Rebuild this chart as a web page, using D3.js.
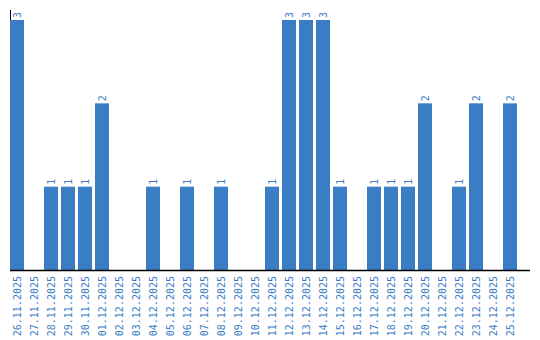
<!DOCTYPE html>
<html>
<head>
  <meta charset="utf-8">
  <script src="https://d3js.org/d3.v7.min.js"></script>
  <style>
  body { margin: 0; background: #fff; }
  .tick text, .val {
    font-family: "DejaVu Sans Mono", monospace;
    font-size: 10px;
    fill: #3a7dc4;
  }
  .bar { fill: #3a7dc4; }
  </style>
</head>
<body>
<script>
// days shown on the x axis
var dates = ['26.11.2025','27.11.2025','28.11.2025','29.11.2025','30.11.2025',
  '01.12.2025','02.12.2025','03.12.2025','04.12.2025','05.12.2025',
  '06.12.2025','07.12.2025','08.12.2025','09.12.2025','10.12.2025',
  '11.12.2025','12.12.2025','13.12.2025','14.12.2025','15.12.2025',
  '16.12.2025','17.12.2025','18.12.2025','19.12.2025','20.12.2025',
  '21.12.2025','22.12.2025','23.12.2025','24.12.2025','25.12.2025'];
// count per day
var counts = [3,0,1,1,1, 2,0,0,1,0, 1,0,1,0,0, 1,3,3,3,1, 0,1,1,1,2, 0,1,2,0,2];

var width = 540, height = 340;
var plotLeft = 10, plotTop = 20, base = 270;

var svg = d3.select('body').append('svg')
  .attr('width', width)
  .attr('height', height);

var x = d3.scaleBand()
  .domain(dates)
  .range([plotLeft, 517])
  .paddingInner(3 / 17)
  .paddingOuter(0);

var y = d3.scaleLinear()
  .domain([0, 3])
  .range([base, plotTop]);

var data = dates.map(function(d, i) { return {date: d, n: counts[i]}; });

// axes lines
svg.append('line')
  .attr('x1', plotLeft + 0.5).attr('x2', plotLeft + 0.5)
  .attr('y1', 10).attr('y2', base)
  .attr('stroke', '#000');

svg.selectAll('.bar')
  .data(data.filter(function(d) { return d.n > 0; }))
  .enter().append('rect')
  .attr('class', 'bar')
  .attr('x', function(d) { return x(d.date); })
  .attr('y', function(d) { return y(d.n); })
  .attr('width', x.bandwidth())
  .attr('height', function(d) { return base - y(d.n); });

// value labels, rotated
svg.selectAll('.val')
  .data(data.filter(function(d) { return d.n > 0; }))
  .enter().append('text')
  .attr('class', 'val')
  .attr('transform', function(d) {
    return 'translate(' + (x(d.date) + x.bandwidth() / 2 + 4) + ',' + (y(d.n) - 2) + ') rotate(-90)';
  })
  .text(function(d) { return d.n; });

svg.append('line')
  .attr('x1', plotLeft).attr('x2', 530)
  .attr('y1', base + 0.5).attr('y2', base + 0.5)
  .attr('stroke', '#000').attr('stroke-width', 1.5);

var xAxis = d3.axisBottom(x).tickSize(0).tickPadding(0);
var gx = svg.append('g')
  .attr('transform', 'translate(0,' + base + ')')
  .call(xAxis);
gx.select('.domain').remove();
gx.selectAll('.tick text')
  .attr('transform', 'rotate(-90)')
  .attr('x', -6)
  .attr('y', 0)
  .attr('dy', '0.35em')
  .style('text-anchor', 'end');
</script>
</body>
</html>
